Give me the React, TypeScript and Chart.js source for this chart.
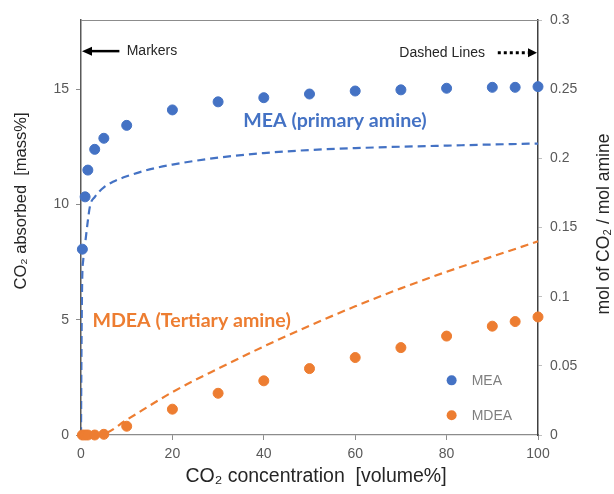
import React, { useEffect, useRef } from "react";
import { Chart, registerables } from "chart.js";

Chart.register(...registerables);

// ---- data ----
const MEA_X = [0.3, 0.9, 1.5, 3, 5, 10, 20, 30, 40, 50, 60, 70, 80, 90, 95, 100];
const MEA_MASS = [8.06, 10.33, 11.49, 12.39, 12.87, 13.43, 14.1, 14.45, 14.63, 14.79, 14.92, 14.97, 15.04, 15.08, 15.08, 15.11];
const MDEA_X = [0.3, 0.9, 1.5, 3, 5, 10, 20, 30, 40, 50, 60, 70, 80, 90, 95, 100];
const MDEA_MASS = [0, 0, 0, 0, 0.03, 0.38, 1.12, 1.81, 2.35, 2.88, 3.36, 3.79, 4.29, 4.72, 4.92, 5.12];

const MEA_CURVE_X = [0, 0.1, 0.25, 0.5, 1, 1.5, 2, 3, 4, 5, 7, 10, 15, 20, 30, 40, 50, 60, 70, 80, 90, 100];
const MEA_CURVE_MOL = [0, 0.06, 0.11, 0.127, 0.141, 0.155, 0.166, 0.172, 0.176, 0.179, 0.183, 0.187, 0.192, 0.1955, 0.2005, 0.2038, 0.206, 0.2074, 0.2084, 0.2092, 0.21, 0.2107];
const MDEA_CURVE_X = [0, 5, 10, 20, 30, 40, 50, 60, 70, 80, 90, 100];
const MDEA_CURVE_MOL = [0, 0.001, 0.011, 0.031, 0.048, 0.064, 0.079, 0.093, 0.106, 0.118, 0.129, 0.14];

const X_TICKS = [0, 20, 40, 60, 80, 100];
const Y_LEFT_TICKS = [0, 5, 10, 15];
const Y_RIGHT_TICKS = [0, 0.05, 0.1, 0.15, 0.2, 0.25, 0.3];

const SERIES_NAMES = ["MEA", "MDEA"];
const LABEL_MEA = "MEA (primary amine)";
const LABEL_MDEA = "MDEA (Tertiary amine)";
const X_TITLE = "CO₂ concentration  [volume%]";
const Y_TITLE = "CO₂ absorbed  [mass%]";
const Y2_TITLE = "mol of CO₂ / mol amine";
const NOTE_MARKERS = "Markers";
const NOTE_DASHED = "Dashed Lines";

// ---- styles ----
const BLUE = "#4472C4";
const ORANGE = "#ED7D31";
const TICK_COLOR = "#595959";
const SANS = "'Liberation Sans', Arial, sans-serif";

const toPts = (xs: number[], ys: number[]) => xs.map((x, i) => ({ x, y: ys[i] }));

function arrowHead(ctx: CanvasRenderingContext2D, tipX: number, tipY: number, dir: number, len: number, half: number) {
  ctx.beginPath();
  ctx.moveTo(tipX, tipY);
  ctx.lineTo(tipX - dir * len, tipY - half);
  ctx.lineTo(tipX - dir * len, tipY + half);
  ctx.closePath();
  ctx.fill();
}

const annotPlugin = {
  id: "annot",
  afterDraw(chart: any) {
    const { ctx, chartArea, scales } = chart;
    const xs = scales.x;
    const ys = scales.y;
    ctx.save();

    // top frame line
    ctx.strokeStyle = "#8c8c8c";
    ctx.lineWidth = 1.2;
    ctx.beginPath();
    ctx.moveTo(chartArea.left, chartArea.top + 0.5);
    ctx.lineTo(chartArea.right, chartArea.top + 0.5);
    ctx.stroke();

    // Markers arrow (points to left axis)
    const ay = ys.getPixelForValue(16.65);
    ctx.strokeStyle = "#000";
    ctx.fillStyle = "#000";
    ctx.lineWidth = 2.5;
    ctx.beginPath();
    ctx.moveTo(xs.getPixelForValue(8.4), ay);
    ctx.lineTo(xs.getPixelForValue(0) + 8, ay);
    ctx.stroke();
    arrowHead(ctx, xs.getPixelForValue(0) + 1, ay, -1, 10, 4.5);

    ctx.font = `14px ${SANS}`;
    ctx.fillStyle = "#262626";
    ctx.textBaseline = "middle";
    ctx.textAlign = "left";
    ctx.fillText(NOTE_MARKERS, xs.getPixelForValue(10), ay);

    // Dashed Lines arrow (points to right axis)
    const by = ys.getPixelForValue(16.58);
    ctx.textAlign = "right";
    ctx.fillText(NOTE_DASHED, xs.getPixelForValue(88.4), by);
    ctx.strokeStyle = "#000";
    ctx.fillStyle = "#000";
    ctx.lineWidth = 3;
    ctx.setLineDash([3, 3]);
    ctx.beginPath();
    ctx.moveTo(xs.getPixelForValue(91.2), by);
    ctx.lineTo(xs.getPixelForValue(100) - 9, by);
    ctx.stroke();
    ctx.setLineDash([]);
    arrowHead(ctx, xs.getPixelForValue(100) - 1, by, 1, 9, 4.5);

    // series labels
    ctx.textAlign = "left";
    ctx.font = `bold 19.6px Lato, 'Open Sans', sans-serif`;
    ctx.fillStyle = BLUE;
    ctx.fillText(LABEL_MEA, xs.getPixelForValue(35.5), ys.getPixelForValue(13.62));
    ctx.fillStyle = ORANGE;
    ctx.fillText(LABEL_MDEA, xs.getPixelForValue(2.5), ys.getPixelForValue(4.95));

    // legend
    const colors = [BLUE, ORANGE];
    const legY = [2.37, 0.86];
    ctx.font = `14px ${SANS}`;
    SERIES_NAMES.forEach((name, i) => {
      const px = xs.getPixelForValue(81.1);
      const py = ys.getPixelForValue(legY[i]);
      ctx.fillStyle = colors[i];
      ctx.beginPath();
      ctx.arc(px, py, 5, 0, Math.PI * 2);
      ctx.fill();
      ctx.fillStyle = "#7f7f7f";
      ctx.fillText(name, px + 20, py + 1);
    });

    // axis titles
    ctx.fillStyle = "#262626";
    ctx.textAlign = "center";
    ctx.font = `19.5px ${SANS}`;
    ctx.fillText(X_TITLE, 316, 477);

    ctx.font = `16.5px ${SANS}`;
    ctx.save();
    ctx.translate(21, 201);
    ctx.rotate(-Math.PI / 2);
    ctx.fillText(Y_TITLE, 0, 0);
    ctx.restore();

    ctx.font = `17.5px ${SANS}`;
    ctx.save();
    ctx.translate(604, 224);
    ctx.rotate(-Math.PI / 2);
    ctx.fillText(Y2_TITLE, 0, 0);
    ctx.restore();

    ctx.restore();
  },
};

export default function App() {
  const ref = useRef<HTMLCanvasElement | null>(null);

  useEffect(() => {
    document.body.style.margin = "0";
    const canvas = ref.current;
    if (!canvas) return;
    const chart = new Chart(canvas, {
      type: "scatter",
      data: {
        datasets: [
          {
            label: SERIES_NAMES[0],
            data: toPts(MEA_X, MEA_MASS),
            yAxisID: "y",
            backgroundColor: BLUE,
            borderColor: BLUE,
            pointRadius: 5,
            showLine: false,
            clip: false,
          },
          {
            label: SERIES_NAMES[1],
            data: toPts(MDEA_X, MDEA_MASS),
            yAxisID: "y",
            backgroundColor: ORANGE,
            borderColor: ORANGE,
            pointRadius: 5,
            showLine: false,
            clip: false,
          },
          {
            label: "MEA curve",
            data: toPts(MEA_CURVE_X, MEA_CURVE_MOL),
            yAxisID: "y2",
            borderColor: BLUE,
            backgroundColor: BLUE,
            borderWidth: 2.2,
            borderDash: [8, 5],
            pointRadius: 0,
            showLine: true,
            cubicInterpolationMode: "monotone",
          },
          {
            label: "MDEA curve",
            data: toPts(MDEA_CURVE_X, MDEA_CURVE_MOL),
            yAxisID: "y2",
            borderColor: ORANGE,
            backgroundColor: ORANGE,
            borderWidth: 2.2,
            borderDash: [8, 5],
            pointRadius: 0,
            showLine: true,
            cubicInterpolationMode: "monotone",
          },
        ],
      },
      options: {
        responsive: false,
        animation: false,
        devicePixelRatio: 1,
        layout: { padding: { top: 20, left: 0, right: 0, bottom: 0 } },
        plugins: { legend: { display: false }, tooltip: { enabled: false } },
        scales: {
          x: {
            type: "linear",
            min: 0,
            max: 100,
            afterBuildTicks: (s: any) => { s.ticks = X_TICKS.map((v) => ({ value: v })); },
            afterFit: (s: any) => { s.height = 59; },
            ticks: { color: TICK_COLOR, font: { family: SANS, size: 14 }, padding: 6, maxRotation: 0 },
            grid: { drawOnChartArea: false, drawTicks: true, tickLength: 5, color: "#8c8c8c" },
            border: { color: "#8c8c8c", width: 1.2 },
          },
          y: {
            type: "linear",
            position: "left",
            min: 0,
            max: 18,
            afterBuildTicks: (s: any) => { s.ticks = Y_LEFT_TICKS.map((v) => ({ value: v })); },
            afterFit: (s: any) => { s.width = 81; },
            ticks: { color: TICK_COLOR, font: { family: SANS, size: 14 }, padding: 7 },
            grid: { drawOnChartArea: false, drawTicks: true, tickLength: 5, color: "#8c8c8c" },
            border: { color: "#595959", width: 1.5 },
          },
          y2: {
            type: "linear",
            position: "right",
            min: 0,
            max: 0.3,
            afterBuildTicks: (s: any) => { s.ticks = Y_RIGHT_TICKS.map((v) => ({ value: v })); },
            afterFit: (s: any) => { s.width = 76; },
            ticks: {
              color: TICK_COLOR,
              font: { family: SANS, size: 14 },
              padding: 8,
              callback: (v: any) => String(Math.round(Number(v) * 100) / 100),
            },
            grid: { drawOnChartArea: false, drawTicks: true, tickLength: 4, color: "#bfbfbf" },
            border: { color: "#404040", width: 1.5, dash: [5, 4] },
          },
        },
      },
      plugins: [annotPlugin],
    } as any);
    return () => chart.destroy();
  }, []);

  return (
    <div style={{ position: "absolute", left: 0, top: 0, width: 614, height: 494, background: "#fff" }}>
      <canvas ref={ref} width={614} height={494} style={{ width: 614, height: 494, display: "block" }} />
    </div>
  );
}
